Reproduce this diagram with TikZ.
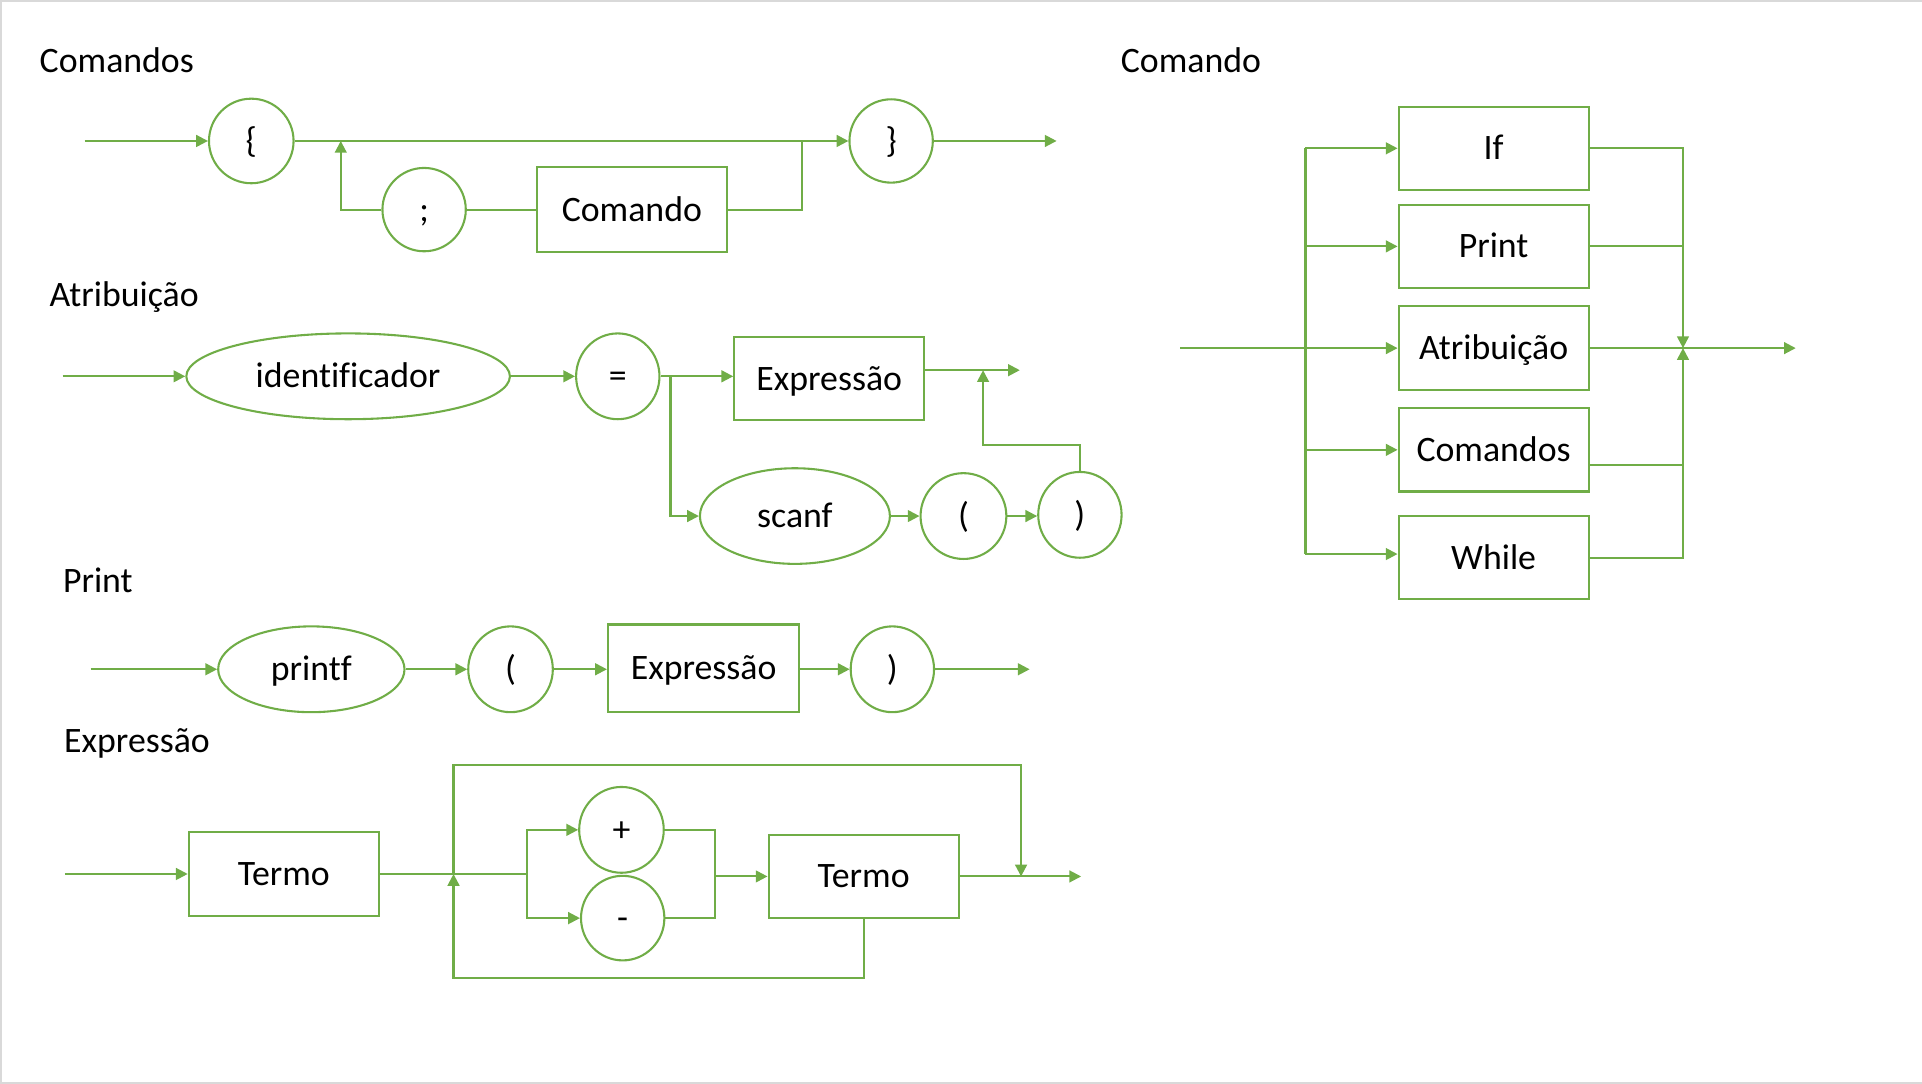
\documentclass[tikz,border=0pt]{standalone}
\usepackage{fontspec}
\setmainfont[Ligatures=CommonOff]{Carlito}
\usetikzlibrary{arrows.meta,shapes.geometric}
\definecolor{gr}{HTML}{70AD47}
\definecolor{frame}{HTML}{D9D9D9}
\begin{document}
\begin{tikzpicture}[x=0.5pt,y=-0.5pt,
  txt/.style={font=\fontsize{14.6}{17}\selectfont, text height=9.4pt, text depth=0pt},
  ttl/.style={font=\fontsize{14.6}{17}\selectfont, anchor=base west, inner sep=0pt},
  el/.style={txt, draw=gr, line width=0.85pt, ellipse, inner sep=0pt},
  bx/.style={txt, draw=gr, line width=0.85pt, rectangle, inner sep=0pt},
  ln/.style={draw=gr, line width=0.85pt},
  arr/.style={ln, -{Triangle[length=4.8pt,width=4.8pt]}}]
\useasboundingbox (0,0) rectangle (1568,884);
\draw[frame, line width=0.8pt] (0,0.8) -- (1568,0.8);
\draw[frame, line width=0.8pt] (0,883.2) -- (1568,883.2);
\draw[frame, line width=0.8pt] (0.8,0) -- (0.8,884);

% ---------- Comandos ----------
\node[ttl] (tcmds) at (32,59) {Comandos};
\node[el, minimum width=34.5pt, minimum height=34.5pt] (lb) at (205,115) {\{};
\node[el, minimum width=34pt, minimum height=34pt] (rb) at (727,115) {\}};
\node[el, minimum width=34pt, minimum height=34pt] (semi) at (346,171) {;};
\node[bx, minimum width=77.5pt, minimum height=34.5pt] (cmd) at (515.5,171) {Comando};
\coordinate (c0) at (69,115);
\coordinate (c1) at (862,115);
\coordinate (j1) at (654,115);
\coordinate (j2) at (278,115);
\draw[arr] (c0) -- (lb.west);
\draw[arr] (lb.east) -- (rb.west);
\draw[arr] (rb.east) -- (c1);
\draw[ln] (j1) |- (cmd.east);
\draw[ln] (cmd.west) -- (semi.east);
\draw[arr] (semi.west) -| (j2);

% ---------- Atribuicao ----------
\node[ttl] (tatr) at (40,250) {Atribuição};
\node[el, minimum width=132pt, minimum height=35pt] (id) at (284,307) {identificador};
\node[el, minimum width=34pt, minimum height=35pt] (eq) at (504,307) {=};
\node[bx, minimum width=77.5pt, minimum height=34pt] (exp) at (676.5,309) {Expressão};
\node[el, minimum width=77.5pt, minimum height=39pt] (scanf) at (648.5,421) {scanf};
\node[el, minimum width=35pt, minimum height=35pt] (lp) at (786,421) {(};
\node[el, minimum width=34pt, minimum height=35pt] (rp) at (881,420) {)};
\coordinate (a0) at (51,307);
\coordinate (a3) at (832,302);
\coordinate (a4) at (802,302);
\coordinate (a5) at (880,363);
\coordinate (b) at (547,307);
\draw[arr] (a0) -- (id.west);
\draw[arr] (id.east) -- (eq.west);
\draw[arr] (eq.east) -- (exp.west |- eq.east);
\draw[arr] (exp.east |- a3) -- (a3);
\draw[arr] (b) |- (scanf.west);
\draw[arr] (scanf.east) -- (lp.west);
\draw[arr] (lp.east) -- (rp.west |- lp.east);
\draw[arr] (rp.north) -- (rp.north |- a5) -| (a4);

% ---------- Print ----------
\node[ttl] (tpr) at (51,483) {Print};
\node[el, minimum width=76pt, minimum height=35pt] (printf) at (254,546) {printf};
\node[el, minimum width=34.5pt, minimum height=35pt] (lp2) at (416.5,546) {(};
\node[bx, minimum width=78pt, minimum height=35.5pt] (exp2) at (574,545) {Expressão};
\node[el, minimum width=34pt, minimum height=35pt] (rp2) at (728,546) {)};
\coordinate (p0) at (74,546);
\coordinate (p1) at (840,546);
\draw[arr] (p0) -- (printf.west);
\draw[arr] (printf.east) -- (lp2.west);
\draw[arr] (lp2.east) -- (exp2.west |- lp2.east);
\draw[arr] (exp2.east |- rp2.west) -- (rp2.west);
\draw[arr] (rp2.east) -- (p1);

% ---------- Expressao ----------
\node[ttl] (texp) at (52,614) {Expressão};
\node[bx, minimum width=77.5pt, minimum height=34.5pt] (t1) at (231.5,713) {Termo};
\node[el, minimum width=34.5pt, minimum height=35pt] (plus) at (507,677) {+};
\node[el, minimum width=34pt, minimum height=34.5pt] (minus) at (508,749) {-};
\node[bx, minimum width=77.5pt, minimum height=34pt] (t2) at (704.5,715) {Termo};
\coordinate (e0) at (53,713);
\coordinate (k1) at (370,713);
\coordinate (k2) at (430,713);
\coordinate (tr) at (833,624);
\coordinate (e3) at (833,715);
\coordinate (e4) at (882,715);
\coordinate (bl) at (370,798);
\coordinate (m1) at (583,749);
\coordinate (m2) at (583,715);
\draw[arr] (e0) -- (t1.west);
\draw[ln] (t1.east) -- (k2);
\draw[arr] (k1) |- (tr) -- (e3);
\draw[arr] (t2.south) |- (bl) -- (k1);
\draw[arr] (k2) |- (plus.west);
\draw[arr] (k2) |- (minus.west);
\draw[ln] (plus.east) -| (m1) -- (minus.east);
\draw[arr] (m2) -- (t2.west);
\draw[arr] (t2.east) -- (e4);

% ---------- Comando ----------
\node[ttl] (tcmd) at (914,59) {Comando};
\node[bx, minimum width=77.5pt, minimum height=34pt] (bif) at (1218.5,121) {If};
\node[bx, minimum width=77.5pt, minimum height=34pt] (bpr) at (1218.5,201) {Print};
\node[bx, minimum width=77.5pt, minimum height=34pt] (bat) at (1218.5,284) {Atribuição};
\node[bx, minimum width=77.5pt, minimum height=34pt] (bco) at (1218.5,367) {Comandos};
\node[bx, minimum width=77.5pt, minimum height=34pt] (bwh) at (1218.5,455) {While};
\coordinate (s0) at (963,284);
\coordinate (v1) at (1065,121);
\coordinate (v2) at (1065,452);
\coordinate (r1) at (1373,284);
\coordinate (q) at (1373,379);
\coordinate (s1) at (1465,284);
\draw[ln] (v1) -- (v2);
\draw[arr] (s0) -- (bat.west);
\draw[arr] (v1) -- (bif.west);
\draw[arr] (bpr.west -| v1) -- (bpr.west);
\draw[arr] (bco.west -| v1) -- (bco.west);
\draw[arr] (v2) -- (bwh.west |- v2);
\draw[arr] (bif.east) -| (r1);
\draw[ln] (bpr.east) -- (bpr.east -| r1);
\draw[ln] (bco.east |- q) -- (q);
\draw[arr] (bwh.east) -| (r1);
\draw[arr] (bat.east) -- (s1);
\end{tikzpicture}
\end{document}
